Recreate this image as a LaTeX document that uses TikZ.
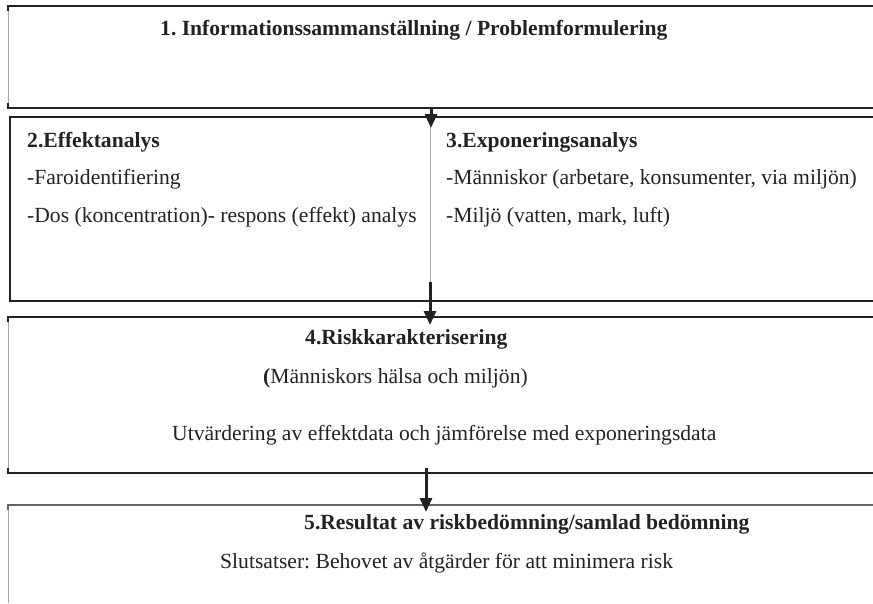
\documentclass[tikz,border=0pt]{standalone}
\usepackage{fontspec}
\setmainfont{Liberation Serif}
\usetikzlibrary{arrows.meta}
\definecolor{ink}{HTML}{222222}
\definecolor{edge}{HTML}{A8A8A8}
\tikzset{
  txt/.style={anchor=base west, inner sep=0pt, text=ink, font=\fontsize{21.6}{24}\selectfont},
  head/.style={txt, font=\fontsize{21.6}{24}\selectfont\bfseries},
  dark/.style={draw=ink, line width=1.2pt},
  light/.style={draw=edge, line width=0.8pt},
  flow/.style={draw=ink, line width=3pt, -{Triangle[width=12pt,length=14pt]}, shorten >=0pt},
}
\begin{document}
\frenchspacing
\begin{tikzpicture}[x=1pt,y=-1pt]
\useasboundingbox (0,0) rectangle (873,603);
% box 1
\draw[light] (8,6) -- (8,108);
\draw[dark] (873,6) -- (8,6) -- (8,11);
\draw[dark] (8,103) -- (8,108) -- (873,108);
% box 2/3
\draw[dark] (873,117) -- (10,117) -- (10,301) -- (873,301);
\draw[light] (430,117) -- (430,282);
% box 4
\draw[light] (8,317) -- (8,473);
\draw[dark] (873,317) -- (8,317) -- (8,322);
\draw[dark] (8,468) -- (8,473) -- (873,473);
% box 5
\draw[light] (8,505) -- (8,603);
\draw[draw=ink!70, line width=1.2pt] (873,505) -- (8,505) -- (8,510);
% anchors for arrows
\coordinate (b1) at (431,108);
\coordinate (b23) at (431,128);
\coordinate (d23) at (430,282);
\coordinate (b4) at (430,325);
\coordinate (e4) at (426,468);
\coordinate (b5) at (426,512);
\draw[flow] (b1) -- (b23);
\draw[flow] (d23) -- (b4);
\draw[flow] (e4) -- (b5);
% texts
\node[head] (t1) at (160,35) {1. Informationssammanställning / Problemformulering};
\node[head] (t2) at (27,147) {2.Effektanalys};
\node[txt] (t2a) at (27,184) {-Faroidentifiering};
\node[txt] (t2b) at (27,222) {-Dos (koncentration)- respons (effekt) analys};
\node[head] (t3) at (446,147) {3.Exponeringsanalys};
\node[txt] (t3a) at (446,184) {-Människor (arbetare, konsumenter, via miljön)};
\node[txt] (t3b) at (446,222) {-Miljö (vatten, mark, luft)};
\node[head] (t4) at (305,344) {4.Riskkarakterisering};
\node[txt] (t4a) at (263,383) {\textbf{(}Människors hälsa och miljön)};
\node[txt] (t4b) at (172,440) {Utvärdering av effektdata och jämförelse med exponeringsdata};
\node[head] (t5) at (304,529) {5.Resultat av riskbedömning/samlad bedömning};
\node[txt] (t5a) at (220,568) {Slutsatser: Behovet av åtgärder för att minimera risk};
\end{tikzpicture}
\end{document}
